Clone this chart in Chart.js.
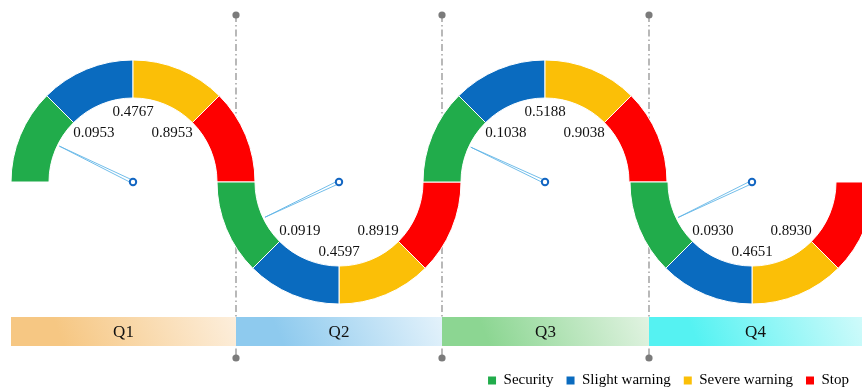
<!DOCTYPE html>
<html>
<head>
<meta charset="utf-8">
<script src="https://cdn.jsdelivr.net/npm/chart.js@4.4.1/dist/chart.umd.min.js"></script>
<style>
    html, body {
        margin: 0;
        padding: 0;
        background: #fff;
        overflow: hidden;
    }

    #wrap {
        position: relative;
        width: 862px;
        height: 392px;
        overflow: hidden;
    }

    #wrap canvas {
        position: absolute;
    }
</style>
</head>
<body>
<div id="wrap">
    <canvas id="base" width="862" height="392" style="left:0;top:0"></canvas>
</div>
<script>
    // ---- data ----
    var quarters = ['Q1', 'Q2', 'Q3', 'Q4'];
    var levels = ['Security', 'Slight warning', 'Severe warning', 'Stop'];
    var levelShares = [1, 1, 1, 1];          // every level takes a quarter of the dial
    var thresholds = [                        // boundaries between the four levels
        [0.0953, 0.4767, 0.8953],
        [0.0919, 0.4597, 0.8919],
        [0.1038, 0.5188, 0.9038],
        [0.0930, 0.4651, 0.8930]
    ];
    var readings = [0.055, 0.052, 0.058, 0.053];

    // ---- styling / layout ----
    var levelColors = ['#21AC4B', '#0A6BBF', '#FBBF07', '#FE0000'];
    var bandColors = [
        ['#F6C783', '#FDF1E2'],
        ['#8ECAEE', '#EAF5FC'],
        ['#8CD692', '#E8F5E8'],
        ['#55F2F2', '#D8FBFB']
    ];
    var W = 862;
    var centerY = 182;
    var outerR = 122, innerR = 84, pad = 10;
    var dialX = [133, 339, 545, 752];
    var bandTop = 317, bandBottom = 346;
    var serif = '"Liberation Serif", "Times New Roman", serif';

    function bandEdges(i) {
        var left = i === 0 ? dialX[0] - outerR : (dialX[i - 1] + dialX[i]) / 2;
        var right = i === quarters.length - 1 ? W : (dialX[i] + dialX[i + 1]) / 2;
        return [Math.round(left), Math.round(right)];
    }

    // maps a reading onto the dial: each level spans 45 degrees
    function dialAngle(v, t) {
        var b = [0].concat(t, [1]);
        for (var k = 0; k < 4; k++) {
            if (v <= b[k + 1] || k === 3) {
                var f = (v - b[k]) / (b[k + 1] - b[k]);
                return (k + f) * Math.PI / 4;
            }
        }
    }

    var bandText = {
        id: 'bandText',
        afterDatasetsDraw: function (chart) {
            var ctx = chart.ctx, xs = chart.scales.x, ys = chart.scales.y;
            ctx.save();
            ctx.font = '17px ' + serif;
            ctx.fillStyle = '#111';
            ctx.textAlign = 'center';
            ctx.textBaseline = 'middle';
            quarters.forEach(function (q, i) {
                var e = bandEdges(i);
                ctx.fillText(q, xs.getPixelForValue((e[0] + e[1]) / 2),
                    ys.getPixelForValue((bandTop + bandBottom) / 2) + 1);
            });
            ctx.restore();
        }
    };

    var dialPlugin = {
        id: 'dial',
        afterDatasetsDraw: function (chart, args, opts) {
            var arc = chart.getDatasetMeta(0).data[0];
            var cx = arc.x, cy = arc.y, rIn = arc.innerRadius;
            var s = opts.down ? 1 : -1;
            var ctx = chart.ctx;
            ctx.save();

            // threshold values
            ctx.font = '15px ' + serif;
            ctx.fillStyle = '#111';
            ctx.textAlign = 'center';
            ctx.textBaseline = 'middle';
            var spots = [[51.5, rIn * 0.75], [90, rIn * 0.83], [128.5, rIn * 0.75]];
            opts.values.forEach(function (t, k) {
                var a = spots[k][0] * Math.PI / 180, r = spots[k][1];
                ctx.fillText(t.toFixed(4), cx - Math.cos(a) * r, cy + s * Math.sin(a) * r);
            });

            // needle
            var a = dialAngle(opts.reading, opts.values);
            var dx = -Math.cos(a), dy = s * Math.sin(a);
            var len = rIn - 2;
            ctx.beginPath();
            ctx.moveTo(cx - dy * 1.5, cy + dx * 1.5);
            ctx.lineTo(cx + dx * len, cy + dy * len);
            ctx.lineTo(cx + dy * 1.5, cy - dx * 1.5);
            ctx.fillStyle = '#ffffff';
            ctx.fill();
            ctx.strokeStyle = '#62B6E7';
            ctx.lineWidth = 0.9;
            ctx.stroke();

            // hub
            ctx.beginPath();
            ctx.arc(cx, cy, 3.2, 0, Math.PI * 2);
            ctx.fillStyle = '#fff';
            ctx.fill();
            ctx.strokeStyle = '#1366C2';
            ctx.lineWidth = 2;
            ctx.stroke();
            ctx.restore();
        }
    };

    function drawAll() {
        // coloured quarter bands
        var datasets = quarters.map(function (q, i) {
            var e = bandEdges(i);
            return {
                label: q,
                data: [{x: e[0], y: bandTop}, {x: e[1], y: bandTop}],
                fill: {value: bandBottom},
                borderWidth: 0,
                pointRadius: 0,
                clip: false,
                backgroundColor: function (c) {
                    var chart = c.chart;
                    if (!chart.chartArea) return bandColors[i][0];
                    var xs = chart.scales.x, ys = chart.scales.y;
                    var g = chart.ctx.createLinearGradient(
                        xs.getPixelForValue(e[0]), ys.getPixelForValue(bandBottom) + 30,
                        xs.getPixelForValue(e[1]), ys.getPixelForValue(bandTop) - 30);
                    g.addColorStop(0, bandColors[i][0]);
                    g.addColorStop(0.25, bandColors[i][0]);
                    g.addColorStop(1, bandColors[i][1]);
                    return g;
                }
            };
        });

        // dash-dot separators between the quarters
        for (var i = 1; i < quarters.length; i++) {
            var x = bandEdges(i)[0];
            datasets.push({
                label: 'sep' + i,
                data: [{x: x, y: 15}, {x: x, y: 358}],
                borderColor: '#8a8a8a',
                borderWidth: 1.2,
                borderDash: [7, 3, 1.5, 3],
                pointRadius: 3.6,
                pointBorderWidth: 0,
                pointBackgroundColor: '#7b7b7b',
                clip: false
            });
        }

        new Chart(document.getElementById('base'), {
            type: 'line',
            data: {datasets: datasets},
            options: {
                responsive: false,
                animation: false,
                events: [],
                layout: {autoPadding: false, padding: {bottom: -6}},
                scales: {
                    x: {type: 'linear', display: false, min: 0, max: W},
                    y: {type: 'linear', display: false, min: 0, max: 360, reverse: true}
                },
                plugins: {
                    tooltip: {enabled: false},
                    legend: {
                        position: 'bottom',
                        align: 'end',
                        labels: {
                            boxWidth: 8,
                            boxHeight: 8,
                            padding: 13,
                            color: '#111',
                            font: {family: serif, size: 15},
                            generateLabels: function () {
                                return levels.map(function (name, k) {
                                    return {
                                        text: name,
                                        fillStyle: levelColors[k],
                                        strokeStyle: levelColors[k],
                                        lineWidth: 0,
                                        hidden: false
                                    };
                                });
                            }
                        }
                    }
                }
            },
            plugins: [bandText]
        });

        var wrap = document.getElementById('wrap');
        quarters.forEach(function (q, i) {
            var down = i % 2 === 1;
            var cv = document.createElement('canvas');
            cv.width = outerR * 2 + pad * 2;
            cv.height = outerR + pad * 2;
            cv.style.left = (dialX[i] - outerR - pad) + 'px';
            cv.style.top = (down ? centerY - pad : centerY - outerR - pad) + 'px';
            wrap.appendChild(cv);

            var shares = levelShares.slice(), colors = levelColors.slice();
            if (down) {
                shares.reverse();
                colors.reverse();
            }

            new Chart(cv, {
                type: 'doughnut',
                data: {
                    labels: down ? levels.slice().reverse() : levels,
                    datasets: [{
                        data: shares,
                        backgroundColor: colors,
                        borderColor: '#ffffff',
                        borderWidth: 1
                    }]
                },
                options: {
                    responsive: false,
                    animation: false,
                    events: [],
                    rotation: down ? 90 : -90,
                    circumference: 180,
                    radius: outerR,
                    cutout: (innerR / outerR * 100) + '%',
                    layout: {padding: pad},
                    plugins: {
                        legend: {display: false},
                        tooltip: {enabled: false},
                        dial: {values: thresholds[i], reading: readings[i], down: down}
                    }
                },
                plugins: [dialPlugin]
            });
        });
    }

    if (document.fonts && document.fonts.load) {
        Promise.all([
            document.fonts.load('15px "Liberation Serif"'),
            document.fonts.load('17px "Liberation Serif"')
        ]).then(drawAll, drawAll);
    } else {
        drawAll();
    }
</script>
</body>
</html>
